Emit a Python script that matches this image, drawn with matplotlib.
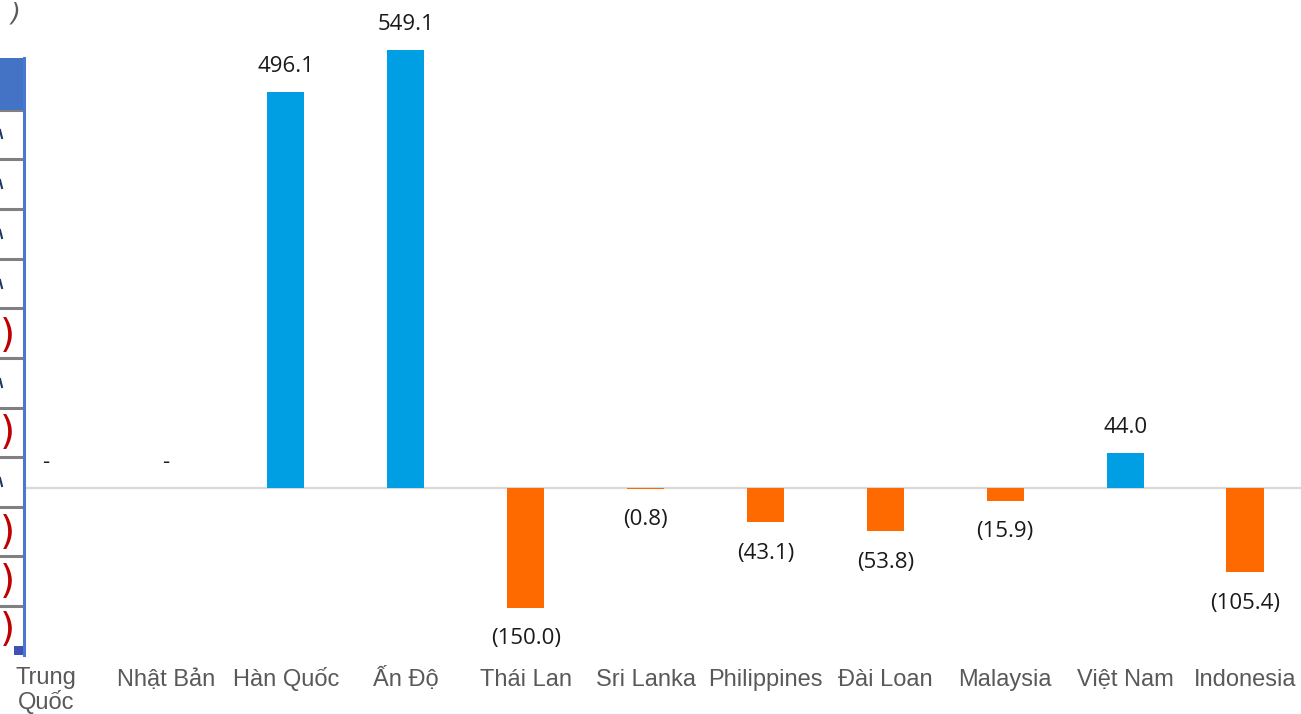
import matplotlib.pyplot as plt
from matplotlib.patches import Rectangle
from matplotlib.transforms import ScaledTranslation

countries = ['Trung\nQuốc', 'Nhật Bản', 'Hàn Quốc', 'Ấn Độ', 'Thái Lan', 'Sri Lanka',
             'Philippines', 'Đài Loan', 'Malaysia', 'Việt Nam', 'Indonesia']
values = [0.0, 0.0, 496.1, 549.1, -150.0, -0.8, -43.1, -53.8, -15.9, 44.0, -105.4]

BLUE = '#009FE3'
ORANGE = '#FF6A00'

W, H = 1301, 714
fig = plt.figure(figsize=(W / 100, H / 100), dpi=100)
ax = fig.add_axes([0, 54 / H, 1, 1 - 54 / H])

x = list(range(len(countries)))
colors = [BLUE if v >= 0 else ORANGE for v in values]
ax.bar(x, values, width=0.31, color=colors, zorder=2)
ax.axhline(0, color='#D9D9D9', lw=1.6, zorder=1)

# value labels: parentheses for negatives, dash for zero
for xi, v in zip(x, values):
    if v == 0:
        txt, y = '-', 32
    elif v > 0:
        txt, y = f'{v:.1f}', v + 32
    else:
        txt, y = f'({-v:.1f})', v - 39
    ax.text(xi, y, txt, ha='center', va='center', fontsize=16, family='Open Sans',
            color='#1a1a1a')

ax.set_xlim(-0.384, 10.467)
ax.set_ylim(-215.5, 611.5)
ax.set_xticks(x)
# baseline alignment keeps labels with and without diacritics on one line
ax.set_xticklabels(countries, fontsize=17, family='Liberation Sans',
                   color='#595959', linespacing=1.05, va='baseline')
ax.tick_params(axis='x', length=0, pad=19)
# the two-line label hangs from its first line instead
first = ax.get_xticklabels()[0]
first.set_va('top')
first.set_transform(first.get_transform() + ScaledTranslation(0, 19 / 100, fig.dpi_scale_trans))
ax.set_yticks([])
for s in ax.spines.values():
    s.set_visible(False)

# strip of the neighbouring table on the left edge
def fx(px):
    return px / W

def fy(py):
    return 1 - py / H

fig.patches.append(Rectangle((0, fy(655)), fx(24), fy(58) - fy(655),
                             transform=fig.transFigure, facecolor='white',
                             edgecolor='none', zorder=3))
fig.patches.append(Rectangle((0, fy(110)), fx(23), fy(58) - fy(110),
                             transform=fig.transFigure, facecolor='#4472C4',
                             edgecolor='none', zorder=4))
rows = [110, 159, 209, 259, 308, 358, 408, 457, 507, 556, 606]
for r in rows:
    fig.add_artist(plt.Line2D([0, fx(22)], [fy(r), fy(r)], transform=fig.transFigure,
                              color='#808080', lw=2.2, zorder=4))
fig.add_artist(plt.Line2D([fx(24), fx(24)], [fy(58), fy(655)], transform=fig.transFigure,
                          color='#4A78D0', lw=2.2, zorder=5))
fig.patches.append(Rectangle((fx(14), fy(655)), fx(9), fy(646) - fy(655),
                             transform=fig.transFigure, facecolor='#3F51B5',
                             edgecolor='none', zorder=6))
for yc in [336, 433, 533, 582, 630]:
    fig.text(fx(15), fy(yc), ')', ha='right', va='center', fontsize=28,
             color='#C00000', zorder=6)
for yc in [134, 184, 234, 284, 383, 482]:
    fig.add_artist(plt.Line2D([0, fx(2)], [fy(yc - 4), fy(yc + 4)],
                              transform=fig.transFigure, color='#1F3864', lw=1.5,
                              zorder=6))
fig.text(fx(20), fy(13), ')', ha='right', va='center', fontsize=18, style='italic',
         color='#595959')

fig.savefig('out.png', dpi=100)
